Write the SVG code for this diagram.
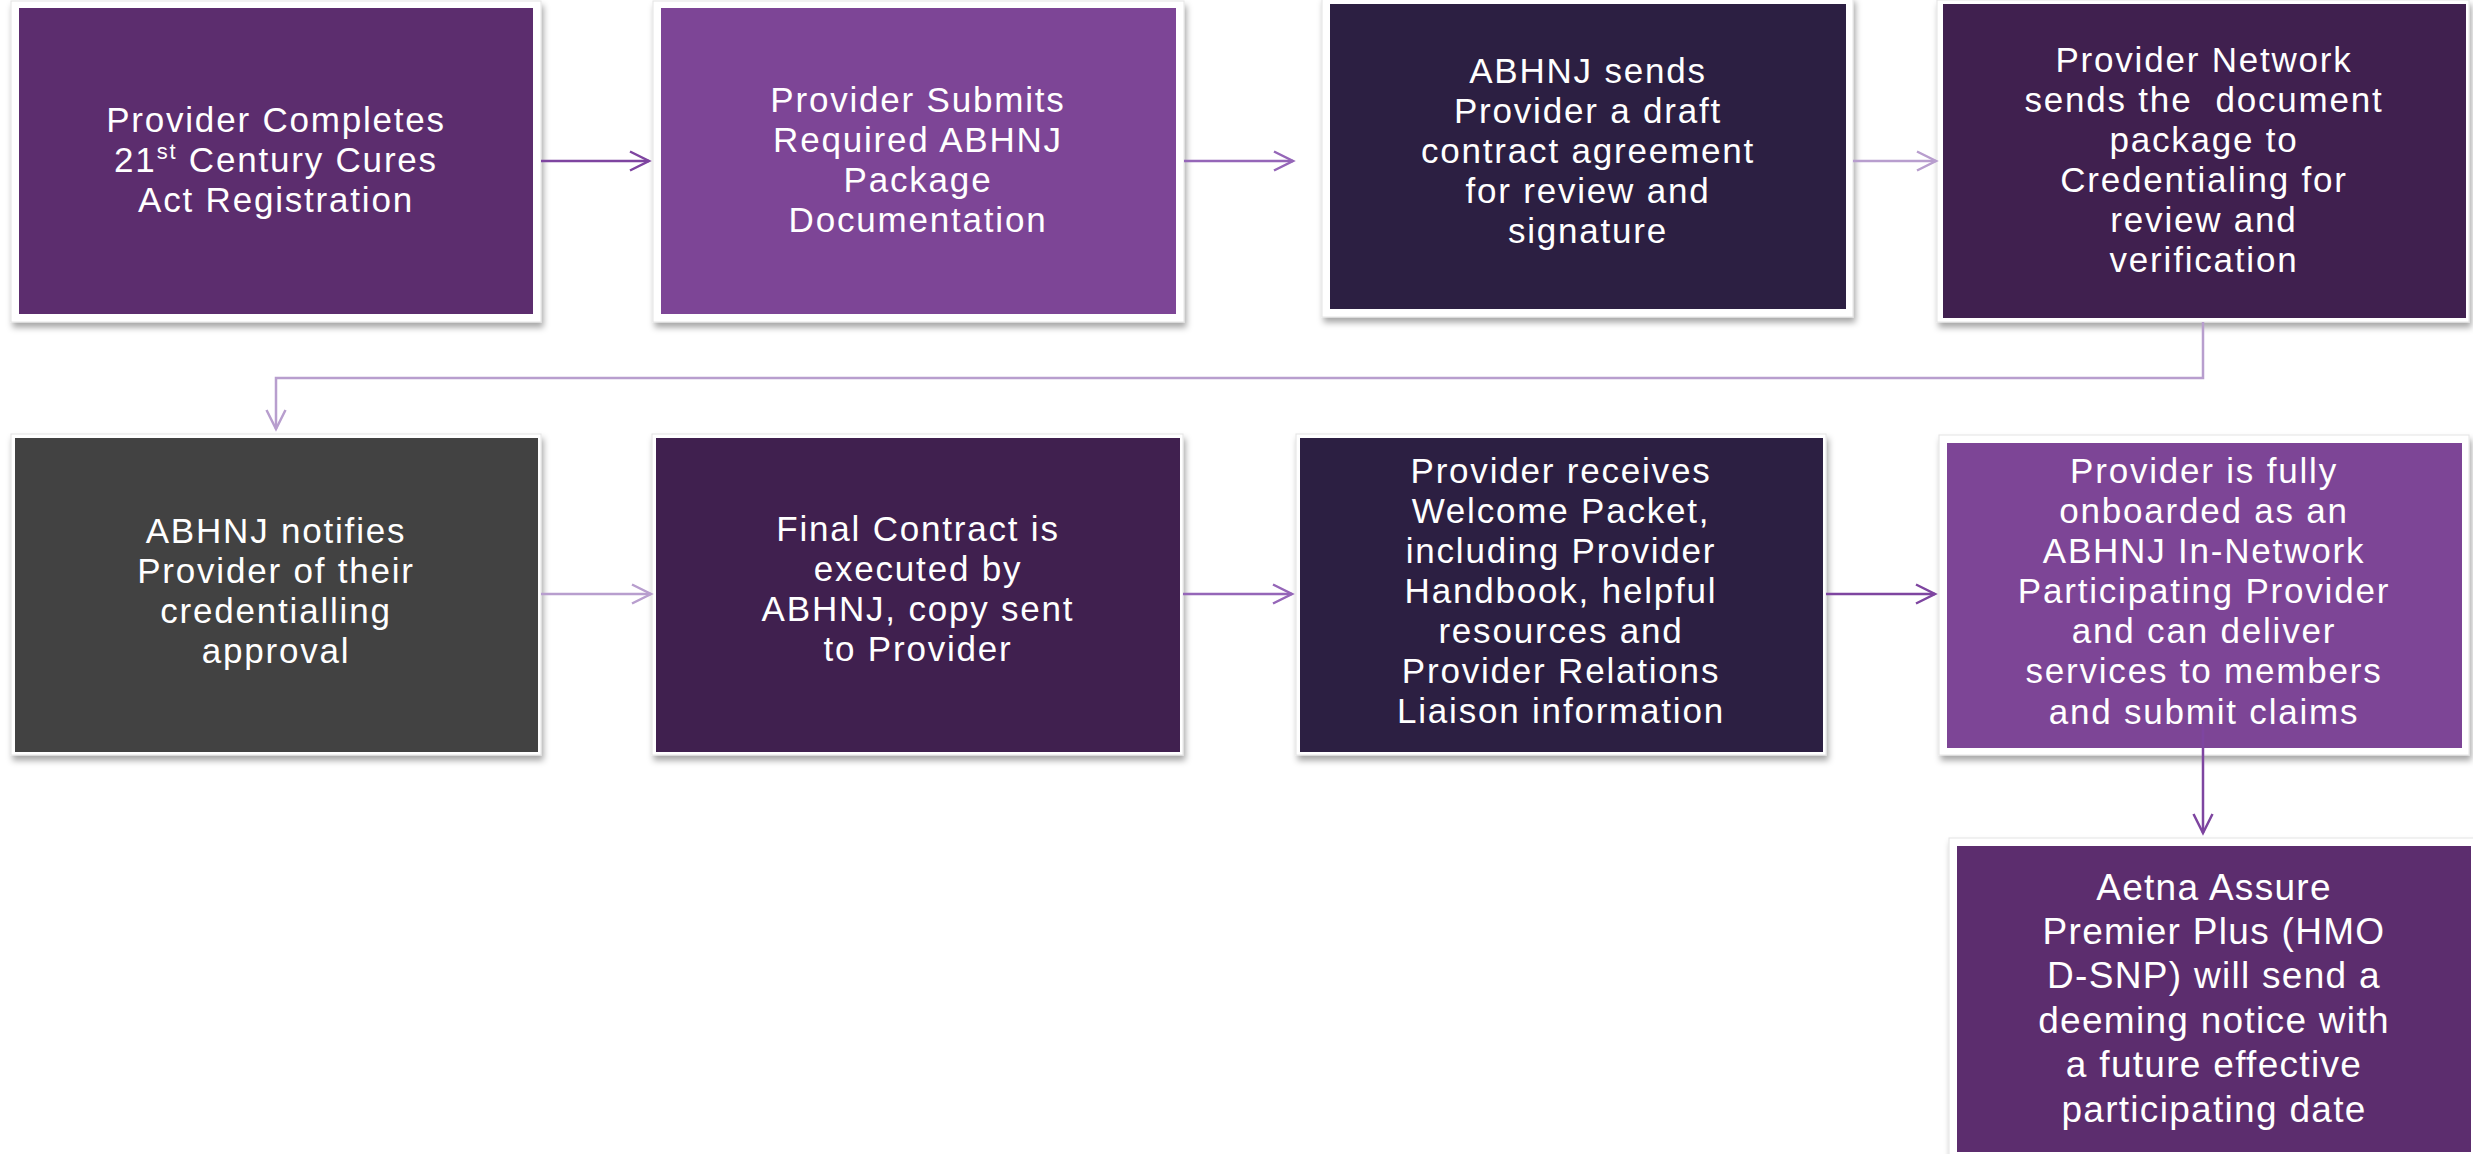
<svg xmlns="http://www.w3.org/2000/svg" width="2473" height="1154" viewBox="0 0 2473 1154">
  <defs>
    <filter id="shadow" x="-5%" y="-5%" width="110%" height="115%">
      <feDropShadow dx="2" dy="5" stdDeviation="3" flood-color="#000" flood-opacity="0.35"/>
    </filter>
    <marker id="ah-dark" markerUnits="userSpaceOnUse" markerWidth="24" markerHeight="24" viewBox="0 0 24 24" refX="21" refY="12" orient="auto">
      <path d="M2,2.5 L21,12 L2,21.5" fill="none" stroke="#7E45A0" stroke-width="2.5"/>
    </marker>
    <marker id="ah-mid" markerUnits="userSpaceOnUse" markerWidth="24" markerHeight="24" viewBox="0 0 24 24" refX="21" refY="12" orient="auto">
      <path d="M2,2.5 L21,12 L2,21.5" fill="none" stroke="#9566B8" stroke-width="2.5"/>
    </marker>
    <marker id="ah-light" markerUnits="userSpaceOnUse" markerWidth="24" markerHeight="24" viewBox="0 0 24 24" refX="21" refY="12" orient="auto">
      <path d="M2,2.5 L21,12 L2,21.5" fill="none" stroke="#B89ECE" stroke-width="2.5"/>
    </marker>
  </defs>
  <style>
    .frame { fill: #ffffff; stroke: #e4e4e4; stroke-width: 1; filter: url(#shadow); }
    .plum { fill: #5C2D6E; }
    .violet { fill: #7D4596; }
    .ink { fill: #2C1F42; }
    .aubergine { fill: #40204F; }
    .graphite { fill: #424242; }
    text { font-family: "Liberation Sans", Arial, sans-serif; font-size: 35px; letter-spacing: 1.8px; fill: #ffffff; text-anchor: middle; }
    .large text { font-size: 37px; letter-spacing: 1.3px; }
    .conn { fill: none; stroke-width: 2.5; }
    .c-dark { stroke: #7E45A0; }
    .c-mid { stroke: #9566B8; }
    .c-light { stroke: #B89ECE; }
  </style>

  <rect width="2473" height="1154" fill="#ffffff"/>

  <!-- Row 1 -->
  <g id="node-cures-registration">
    <rect class="frame" x="11" y="1" width="530" height="321"/>
    <rect class="plum" x="19" y="8" width="514" height="306"/>
    <text x="276" y="132">Provider Completes</text>
    <text x="276" y="172">21<tspan font-size="22" dy="-13">st</tspan><tspan dy="13"> Century Cures</tspan></text>
    <text x="276" y="212">Act Registration</text>
  </g>

  <g id="node-submit-package">
    <rect class="frame" x="653" y="1" width="531" height="321"/>
    <rect class="violet" x="661" y="8" width="515" height="306"/>
    <text x="918" y="112">Provider Submits</text>
    <text x="918" y="152">Required ABHNJ</text>
    <text x="918" y="192">Package</text>
    <text x="918" y="232">Documentation</text>
  </g>

  <g id="node-draft-contract">
    <rect class="frame" x="1322" y="-3" width="531" height="320"/>
    <rect class="ink" x="1330" y="4" width="516" height="305"/>
    <text x="1588" y="83">ABHNJ sends</text>
    <text x="1588" y="123">Provider a draft</text>
    <text x="1588" y="163">contract agreement</text>
    <text x="1588" y="203">for review and</text>
    <text x="1588" y="243">signature</text>
  </g>

  <g id="node-credentialing">
    <rect class="frame" x="1937" y="0" width="532" height="322"/>
    <rect class="aubergine" x="1943" y="4" width="523" height="314"/>
    <text x="2204" y="72">Provider Network</text>
    <text x="2204" y="112">sends the&#160; document</text>
    <text x="2204" y="152">package to</text>
    <text x="2204" y="192">Credentialing for</text>
    <text x="2204" y="232">review and</text>
    <text x="2204" y="272">verification</text>
  </g>

  <!-- Row 2 -->
  <g id="node-approval">
    <rect class="frame" x="11" y="434" width="530" height="321"/>
    <rect class="graphite" x="15" y="438" width="523" height="314"/>
    <text x="276" y="543">ABHNJ notifies</text>
    <text x="276" y="583">Provider of their</text>
    <text x="276" y="623">credentialling</text>
    <text x="276" y="663">approval</text>
  </g>

  <g id="node-final-contract">
    <rect class="frame" x="652" y="434" width="531" height="321"/>
    <rect class="aubergine" x="656" y="438" width="524" height="314"/>
    <text x="918" y="541">Final Contract is</text>
    <text x="918" y="581">executed by</text>
    <text x="918" y="621">ABHNJ, copy sent</text>
    <text x="918" y="661">to Provider</text>
  </g>

  <g id="node-welcome-packet">
    <rect class="frame" x="1296" y="434" width="530" height="321"/>
    <rect class="ink" x="1300" y="438" width="523" height="314"/>
    <text x="1561" y="483">Provider receives</text>
    <text x="1561" y="523">Welcome Packet,</text>
    <text x="1561" y="563">including Provider</text>
    <text x="1561" y="603">Handbook, helpful</text>
    <text x="1561" y="643">resources and</text>
    <text x="1561" y="683">Provider Relations</text>
    <text x="1561" y="723">Liaison information</text>
  </g>

  <g id="node-onboarded">
    <rect class="frame" x="1939" y="435" width="530" height="320"/>
    <rect class="violet" x="1947" y="443" width="515" height="305"/>
    <text x="2204" y="483">Provider is fully</text>
    <text x="2204" y="523">onboarded as an</text>
    <text x="2204" y="563">ABHNJ In-Network</text>
    <text x="2204" y="603">Participating Provider</text>
    <text x="2204" y="643">and can deliver</text>
    <text x="2204" y="683">services to members</text>
    <text x="2204" y="724">and submit claims</text>
  </g>

  <!-- Row 3 -->
  <g id="node-deeming-notice" class="large">
    <rect class="frame" x="1949" y="838" width="540" height="330"/>
    <rect class="plum" x="1957" y="846" width="514" height="306"/>
    <text x="2214" y="900">Aetna Assure</text>
    <text x="2214" y="944">Premier Plus (HMO</text>
    <text x="2214" y="988">D-SNP) will send a</text>
    <text x="2214" y="1033">deeming notice with</text>
    <text x="2214" y="1077">a future effective</text>
    <text x="2214" y="1122">participating date</text>
  </g>

  <!-- Connectors -->
  <g id="connectors">
    <line class="conn c-dark" x1="541" y1="161" x2="649" y2="161" marker-end="url(#ah-dark)"/>
    <line class="conn c-mid" x1="1184" y1="161" x2="1293" y2="161" marker-end="url(#ah-mid)"/>
    <line class="conn c-light" x1="1853" y1="161" x2="1936" y2="161" marker-end="url(#ah-light)"/>
    <polyline class="conn c-light" points="2203,322 2203,378 276,378 276,429" marker-end="url(#ah-light)"/>
    <line class="conn c-light" x1="541" y1="594" x2="651" y2="594" marker-end="url(#ah-light)"/>
    <line class="conn c-mid" x1="1183" y1="594" x2="1292" y2="594" marker-end="url(#ah-mid)"/>
    <line class="conn c-dark" x1="1826" y1="594" x2="1935" y2="594" marker-end="url(#ah-dark)"/>
    <line class="conn c-dark" x1="2203" y1="720" x2="2203" y2="833" marker-end="url(#ah-dark)"/>
  </g>
</svg>
